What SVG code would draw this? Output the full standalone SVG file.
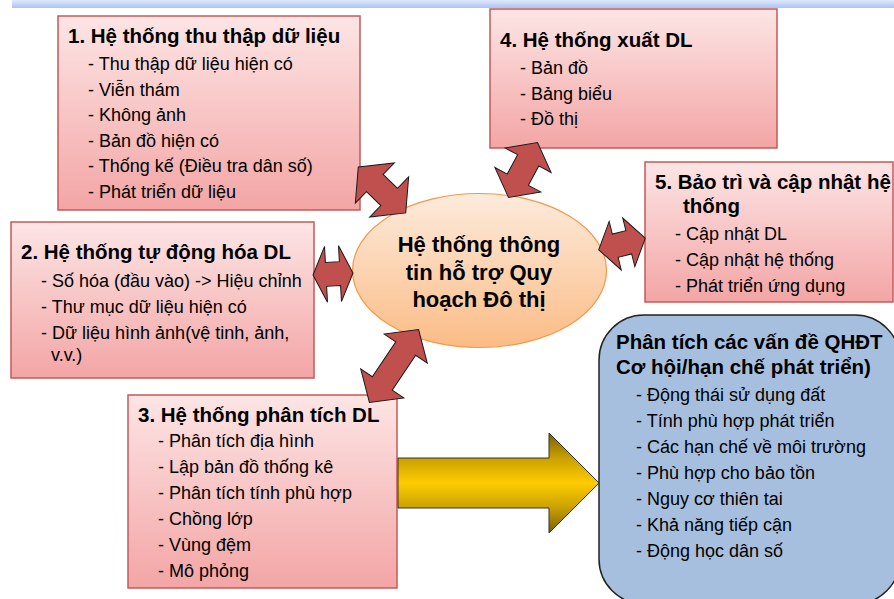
<svg xmlns="http://www.w3.org/2000/svg" width="894" height="599" viewBox="0 0 894 599">
<defs>
<linearGradient id="gBanner" x1="0" y1="0" x2="0" y2="1"><stop offset="0" stop-color="#dfeafc"/><stop offset="1" stop-color="#a9c3f3"/></linearGradient>
<linearGradient id="gBox" x1="0" y1="0" x2="0" y2="1"><stop offset="0" stop-color="#fde5e5"/><stop offset="1" stop-color="#f3a5a5"/></linearGradient>
<linearGradient id="gEll" x1="0" y1="0" x2="0" y2="1"><stop offset="0" stop-color="#fdebdc"/><stop offset="1" stop-color="#fbbc86"/></linearGradient>
<linearGradient id="gYel" gradientUnits="userSpaceOnUse" x1="0" y1="433" x2="0" y2="533"><stop offset="0" stop-color="#7a6000"/><stop offset="0.25" stop-color="#c9a000"/><stop offset="0.5" stop-color="#ffcc00"/><stop offset="0.75" stop-color="#c9a000"/><stop offset="1" stop-color="#7a6000"/></linearGradient>
</defs>
<style>
.box{fill:url(#gBox);stroke:#c55a5a;stroke-width:1.5}
.t{font-family:"Liberation Sans",Arial,sans-serif;font-size:20.5px;font-weight:bold;fill:#000}
.i{font-family:"Liberation Sans",Arial,sans-serif;font-size:18px;fill:#000}
.c{font-family:"Liberation Sans",Arial,sans-serif;font-size:22px;font-weight:bold;fill:#000;text-anchor:middle}
.arr{fill:#c0504d;stroke:#1a1a1a;stroke-width:1}
</style>
<rect x="12" y="0" width="882" height="8" fill="url(#gBanner)"/>

<g id="node1">
<rect class="box" x="58" y="16" width="302" height="194"/>
<text class="t" x="68" y="43">1. Hệ thống thu thập dữ liệu</text>
<text class="i" x="88" y="70">- Thu thập dữ liệu hiện có</text>
<text class="i" x="88" y="95.6">- Viễn thám</text>
<text class="i" x="88" y="121.2">- Không ảnh</text>
<text class="i" x="88" y="146.8">- Bản đồ hiện có</text>
<text class="i" x="88" y="172.4">- Thống kế (Điều tra dân số)</text>
<text class="i" x="88" y="198">- Phát triển dữ liệu</text>
</g>

<g id="node4">
<rect class="box" x="490" y="9" width="287" height="139"/>
<text class="t" x="500" y="47">4. Hệ thống xuất DL</text>
<text class="i" x="520" y="74">- Bản đồ</text>
<text class="i" x="520" y="100">- Bảng biểu</text>
<text class="i" x="520" y="125">- Đồ thị</text>
</g>

<g id="node5">
<rect class="box" x="645" y="162" width="248" height="140"/>
<text class="t" x="655" y="189">5. Bảo trì và cập nhật hệ</text>
<text class="t" x="683" y="213">thống</text>
<text class="i" x="675" y="240">- Cập nhật DL</text>
<text class="i" x="675" y="266">- Cập nhật hệ thống</text>
<text class="i" x="675" y="292">- Phát triển ứng dụng</text>
</g>

<g id="node2">
<rect class="box" x="11" y="222" width="303" height="156"/>
<text class="t" x="21" y="259">2. Hệ thống tự động hóa DL</text>
<text class="i" x="41" y="287">- Số hóa (đầu vào) -&gt; Hiệu chỉnh</text>
<text class="i" x="41" y="313">- Thư mục dữ liệu hiện có</text>
<text class="i" x="41" y="339">- Dữ liệu hình ảnh(vệ tinh, ảnh,</text>
<text class="i" x="51" y="361">v.v.)</text>
</g>

<g id="node3">
<rect class="box" x="128" y="395" width="269" height="193"/>
<text class="t" x="138" y="422">3. Hệ thống phân tích DL</text>
<text class="i" x="158" y="447">- Phân tích địa hình</text>
<text class="i" x="158" y="473">- Lập bản đồ thống kê</text>
<text class="i" x="158" y="499">- Phân tích tính phù hợp</text>
<text class="i" x="158" y="525">- Chồng lớp</text>
<text class="i" x="158" y="551">- Vùng đệm</text>
<text class="i" x="158" y="577">- Mô phỏng</text>
</g>

<g id="node6">
<rect x="599" y="315" width="301" height="289" rx="45" ry="45" fill="#a7bfde" stroke="#222" stroke-width="1.5"/>
<text class="t" x="616" y="349">Phân tích các vấn đề QHĐT</text>
<text class="t" x="616" y="374">Cơ hội/hạn chế phát triển)</text>
<text class="i" x="636" y="401">- Động thái sử dụng đất</text>
<text class="i" x="636" y="427">- Tính phù hợp phát triển</text>
<text class="i" x="636" y="453">- Các hạn chế về môi trường</text>
<text class="i" x="636" y="479">- Phù hợp cho bảo tồn</text>
<text class="i" x="636" y="505">- Nguy cơ thiên tai</text>
<text class="i" x="636" y="531">- Khả năng tiếp cận</text>
<text class="i" x="636" y="557">- Động học dân số</text>
</g>

<g id="center">
<ellipse cx="479.5" cy="270.5" rx="127" ry="77" fill="url(#gEll)" stroke="#f79646" stroke-width="1.2"/>
<text class="c" x="479" y="252">Hệ thống thông</text>
<text class="c" x="479" y="280">tin hỗ trợ Quy</text>
<text class="c" x="479" y="307">hoạch Đô thị</text>
</g>

<g id="connectors">
<path class="arr" transform="translate(382,190) rotate(44)" d="M-33,0 L-10,-28 L-10,-12 L10,-12 L10,-28 L33,0 L10,28 L10,12 L-10,12 L-10,28 Z"/>
<path class="arr" transform="translate(523,170) rotate(-62)" d="M-31,0 L-11,-26 L-11,-12 L11,-12 L11,-26 L31,0 L11,26 L11,12 L-11,12 L-11,26 Z"/>
<path class="arr" transform="translate(622,244) rotate(-14)" d="M-24,0 L-7,-25 L-7,-12 L7,-12 L7,-25 L24,0 L7,25 L7,12 L-7,12 L-7,25 Z"/>
<path class="arr" transform="translate(333,274) rotate(-3)" d="M-20,0 L-7,-28 L-7,-12 L7,-12 L7,-28 L20,0 L7,28 L7,12 L-7,12 L-7,28 Z"/>
<path class="arr" transform="translate(394,366) rotate(-56)" d="M-44,0 L-21,-26 L-21,-12 L21,-12 L21,-26 L44,0 L21,26 L21,12 L-21,12 L-21,26 Z"/>
<path d="M398,458 L549,458 L549,433 L599,483 L549,533 L549,508 L398,508 Z" fill="url(#gYel)" stroke="#333" stroke-width="1"/>
</g>
</svg>
